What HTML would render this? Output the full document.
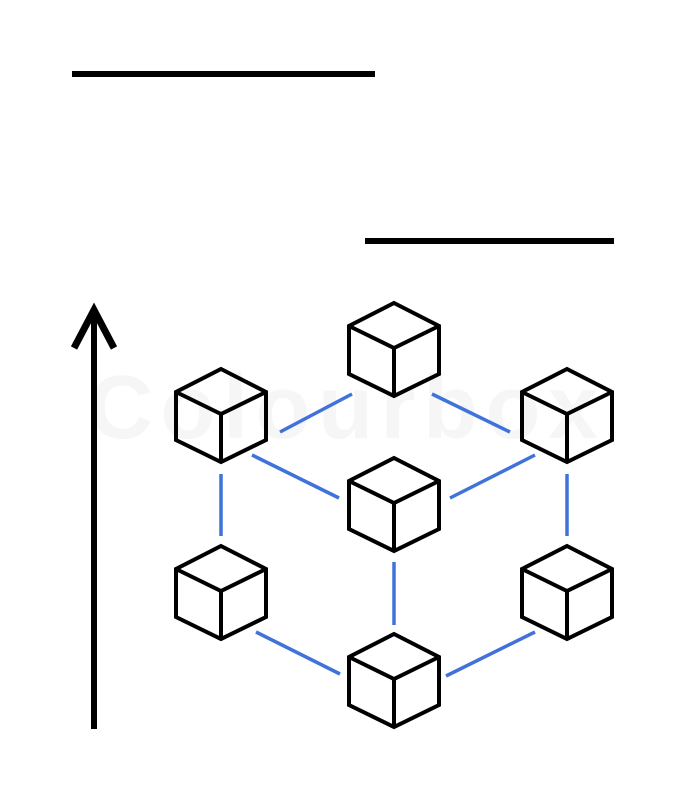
<!DOCTYPE html>
<html><head><style>body{margin:0;background:#fff}svg{display:block}</style></head><body>
<svg width="686" height="800" xmlns="http://www.w3.org/2000/svg">
<text x="343" y="438" font-family="Liberation Sans, sans-serif" font-size="90" font-weight="bold" fill="#f6f6f6" text-anchor="middle" textLength="510">Colourbox</text>
<g stroke="#000" stroke-width="6" fill="none">
<line x1="72" y1="74" x2="375" y2="74"/>
<line x1="365" y1="241" x2="614" y2="241"/>
<line x1="94" y1="729" x2="94" y2="312"/>
<polyline points="74,348 94,310 114,348" stroke-width="7"/>
</g>
<g stroke="#3f72db" stroke-width="3.5">
<line x1="280" y1="432" x2="352" y2="394"/>
<line x1="432" y1="394" x2="510" y2="432"/>
<line x1="252" y1="455" x2="339" y2="498"/>
<line x1="450" y1="498" x2="535" y2="455"/>
<line x1="221" y1="474" x2="221" y2="536"/>
<line x1="567" y1="474" x2="567" y2="536"/>
<line x1="394" y1="562" x2="394" y2="625"/>
<line x1="256" y1="632" x2="340" y2="674"/>
<line x1="446" y1="676" x2="535" y2="632"/>
</g>
<defs>
<g id="c" stroke="#000" stroke-width="4" fill="none" stroke-linejoin="miter">
<polygon points="0,0 45,23 45,71 0,93 -45,71 -45,23"/>
<polyline points="-45,23 0,45 45,23"/>
<line x1="0" y1="45" x2="0" y2="93"/>
</g>
</defs>
<use href="#c" x="394" y="303"/>
<use href="#c" x="221" y="369"/>
<use href="#c" x="567" y="369"/>
<use href="#c" x="394" y="458"/>
<use href="#c" x="221" y="546"/>
<use href="#c" x="567" y="546"/>
<use href="#c" x="394" y="634"/>
</svg>
</body></html>
